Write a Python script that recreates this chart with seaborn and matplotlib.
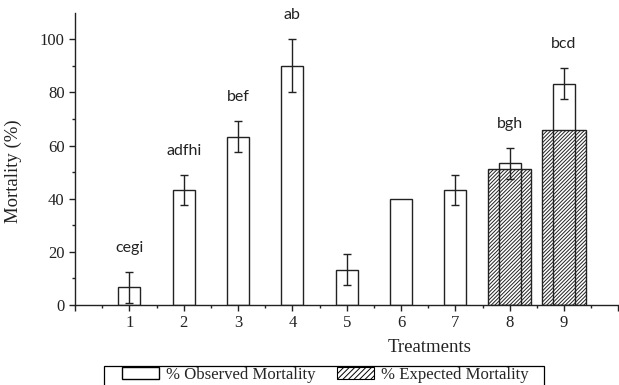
import numpy as np
import pandas as pd
import matplotlib
matplotlib.use("Agg")
import matplotlib.pyplot as plt
import seaborn as sns
from matplotlib.patches import Patch, Rectangle

# ---- data ----
treatments = [1, 2, 3, 4, 5, 6, 7, 8, 9]
observed = [6.67, 43.33, 63.33, 90.0, 13.33, 40.0, 43.33, 53.33, 83.33]
observed_err = [5.77, 5.77, 5.77, 10.0, 5.77, 0.0, 5.77, 5.77, 5.77]
expected_treat = [8, 9]
expected = [51.0, 66.0]
letters = ["cegi", "adfhi", "bef", "ab", "", "", "", "bgh", "bcd"]
tick_labels = ["", "1", "2", "3", "4", "5", "6", "7", "8", "9", ""]

HATCH = "/////////"

sns.set_style("ticks")
plt.rcParams["font.family"] = ["Liberation Serif", "DejaVu Serif"]
plt.rcParams["hatch.linewidth"] = 0.7
plt.rcParams["hatch.color"] = "#2a2a2a"

W, H = 619, 385
fig = plt.figure(figsize=(W / 100, H / 100), dpi=100)
ax = fig.add_axes([75 / W, 1 - 305 / H, 1 - 75 / W - 0.001, (305 - 12.7) / H])

df_obs = pd.DataFrame({"Treatment": treatments, "Observed": observed})
df_exp = pd.DataFrame({"Treatment": expected_treat, "Expected": expected})

# expected (hatched) bars
n0 = len(ax.patches)
sns.barplot(data=df_exp, x="Treatment", y="Expected", native_scale=True,
            width=0.8, color="white", edgecolor="black", linewidth=1.0,
            hatch=HATCH, ax=ax, zorder=1)
for p in ax.patches[n0:]:
    p.set_facecolor("white")
    p.set_edgecolor("#222222")
    p.set_hatch(HATCH)
    p.set_zorder(1)

# observed bars (outline only, drawn on top)
n1 = len(ax.patches)
sns.barplot(data=df_obs, x="Treatment", y="Observed", native_scale=True,
            width=0.4, color="white", edgecolor="black", linewidth=1.0,
            ax=ax, zorder=2)
for p in ax.patches[n1:]:
    p.set_facecolor("none")
    p.set_edgecolor("#222222")
    p.set_zorder(2)

# error bars
err_t = [t for t, e in zip(treatments, observed_err) if e > 0]
err_v = [v for v, e in zip(observed, observed_err) if e > 0]
err_e = [e for e in observed_err if e > 0]
ax.errorbar(err_t, err_v, yerr=err_e, fmt="none", ecolor="#222222",
            elinewidth=1.0, capsize=2.6, capthick=1.0, zorder=3)

# significance letters
for t, v, e, lab in zip(treatments, observed, observed_err, letters):
    if lab:
        ax.text(t, v + e + 9.0, lab, ha="center", va="center",
                fontsize=11.5, family=["Lato", "DejaVu Sans"], color="#222222")

ax.set_xlim(0, 10)
ax.set_ylim(0, 110)
ax.set_xticks(range(0, 11))
ax.set_xticklabels(tick_labels)
ax.set_xticks(np.arange(0.5, 10, 1.0), minor=True)
ax.set_yticks([0, 20, 40, 60, 80, 100])
ax.set_yticks(np.arange(10, 110, 20), minor=True)
ax.tick_params(axis="both", which="major", length=4.5, width=1, labelsize=12,
               colors="#222222", pad=3)
ax.tick_params(axis="both", which="minor", length=2.5, width=1, colors="#222222")
for s in ["left", "bottom"]:
    ax.spines[s].set_linewidth(1.0)
    ax.spines[s].set_color("#222222")
sns.despine(ax=ax)

ax.set_xlabel("Treatments", fontsize=13.5, color="#222222")
ax.set_ylabel("Mortality (%)", fontsize=13.5, color="#222222")
ax.xaxis.set_label_coords((430 - 75) / 544, -0.115)
ax.yaxis.set_label_coords(-0.097, 0.459)

# legend (frame drawn separately to get the wide horizontal padding)
handles = [
    Patch(facecolor="white", edgecolor="black", linewidth=1.0, label="% Observed Mortality"),
    Patch(facecolor="white", edgecolor="black", linewidth=0.8, hatch="//////", label="% Expected Mortality"),
]
leg = fig.legend(handles=handles, loc="upper left",
                 bbox_to_anchor=(122 / W, 1 - 366.5 / H),
                 ncol=2, frameon=False, fontsize=12.1,
                 handlelength=2.2, handleheight=0.76, handletextpad=0.42,
                 columnspacing=1.3, borderpad=0.0, borderaxespad=0)
fig.add_artist(Rectangle((104 / W, 0 - 0.01), (544 - 104) / W, (H - 365.7) / H + 0.01,
                         transform=fig.transFigure, facecolor="none",
                         edgecolor="black", linewidth=0.9, clip_on=False))

fig.savefig("out.png", dpi=100)
